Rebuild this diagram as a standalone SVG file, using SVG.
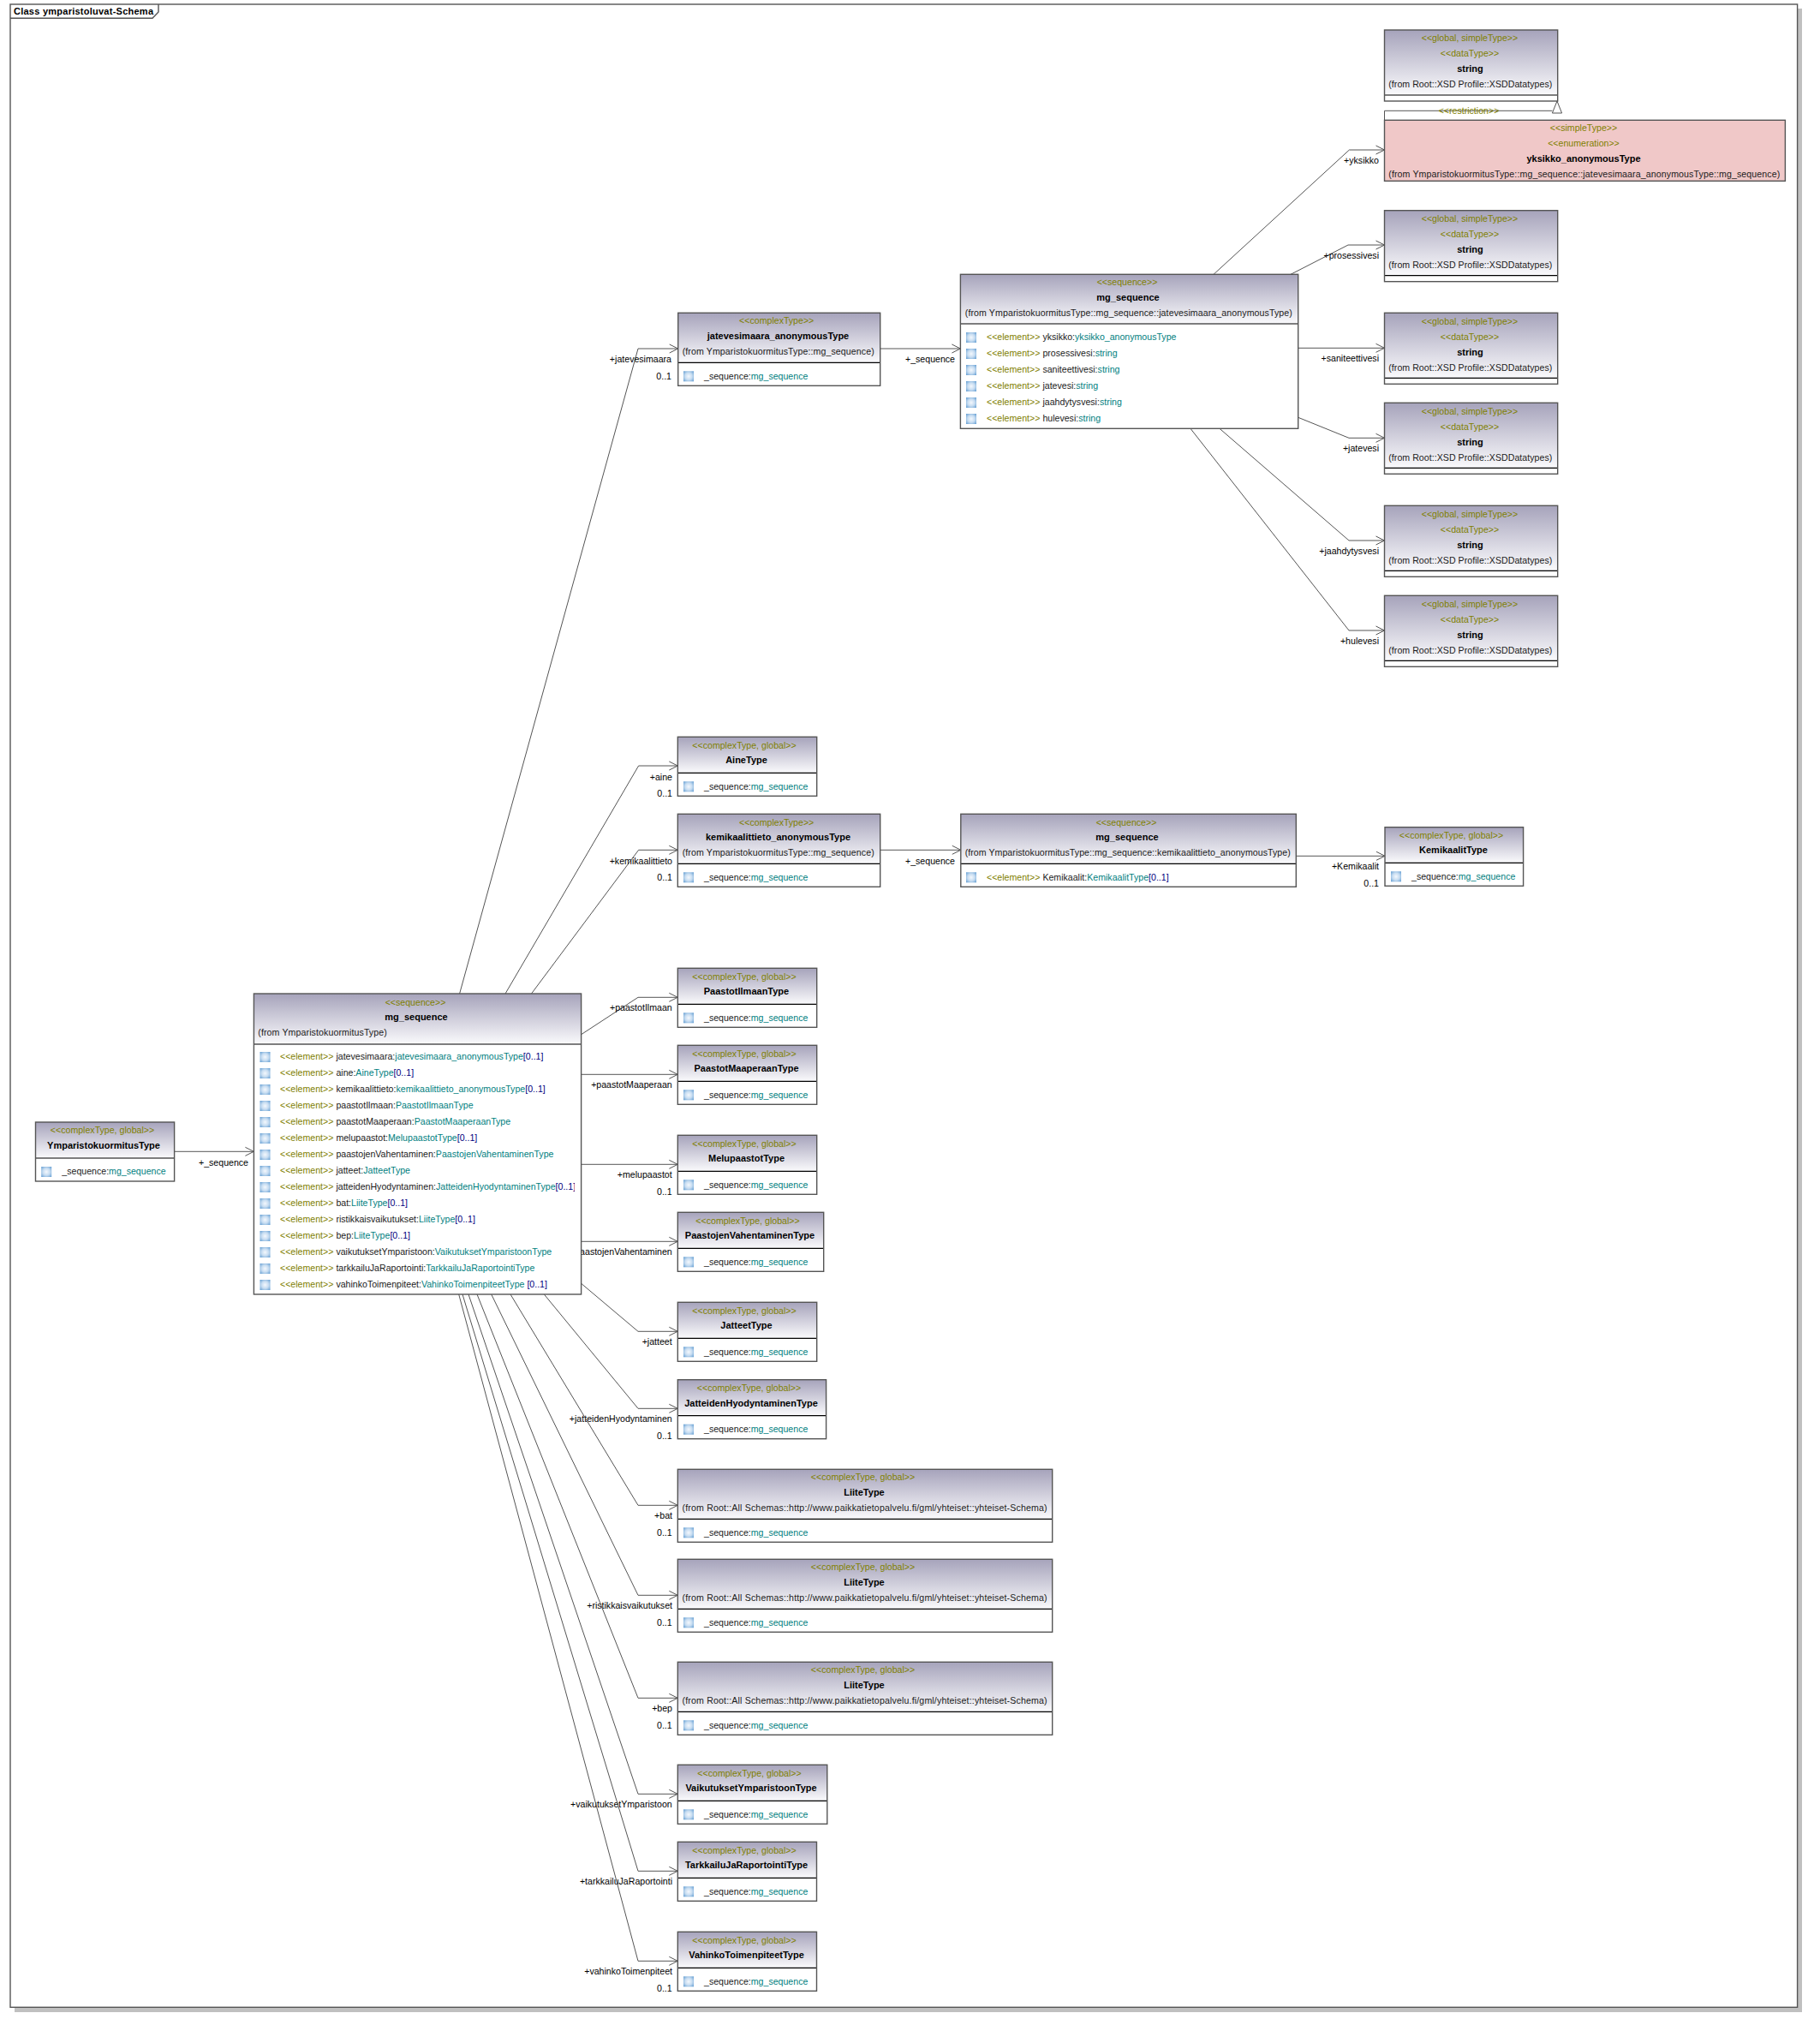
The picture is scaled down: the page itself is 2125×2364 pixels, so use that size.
<svg xmlns="http://www.w3.org/2000/svg" width="2125" height="2364" viewBox="0 0 2125 2364">
<style>
text{font-family:"Liberation Sans",Arial,sans-serif;font-size:10.6px;fill:#1a1a1a}
.st{fill:#808000;text-anchor:middle}
.el{fill:#808000}
.nm{font-weight:bold;font-size:11px;fill:#000;text-anchor:middle}
.ty{fill:#008080}
.mu{fill:#000080}
.lb{text-anchor:end;fill:#000}
.hd{fill:url(#hdr)}
.bx{fill:none;stroke:#555;stroke-width:1.4}
.sp{stroke:#000;stroke-width:1.2;fill:none}
.cn{fill:none;stroke:#555;stroke-width:1;marker-end:url(#arr)}
.ln{fill:none;stroke:#555;stroke-width:1}
</style>
<defs>
<linearGradient id="hdr" x1="0" y1="0" x2="0" y2="1"><stop offset="0" stop-color="#a6a3bb"/><stop offset="1" stop-color="#fafafc"/></linearGradient>
<radialGradient id="icg" cx="0.5" cy="0.5" r="0.7"><stop offset="0" stop-color="#f4f8fd"/><stop offset="0.5" stop-color="#c6dcf1"/><stop offset="1" stop-color="#5f9bd1"/></radialGradient>
<g id="ic"><rect width="12" height="12" fill="url(#icg)"/></g>
<marker id="arr" markerUnits="userSpaceOnUse" markerWidth="14" markerHeight="14" viewBox="-11 -7 13 14" refX="0" refY="0" orient="auto"><path d="M-10,-5L0,0L-10,5" fill="none" stroke="#555" stroke-width="1"/></marker>
<clipPath id="rowclip"><rect x="296" y="1160" width="375" height="351"/></clipPath>
</defs>

<g id="frame">
<rect x="17" y="10" width="2087" height="2339" fill="#c0c0c0"/>
<rect x="12" y="5" width="2086.6" height="2338.3" fill="#fff" stroke="#555" stroke-width="1.4"/>
<path d="M12,21.3H178L185,14V5" class="bx"/>
<text x="16" y="17" style="font-weight:bold;font-size:11px;fill:#000" textLength="163">Class ymparistoluvat-Schema</text>
</g>

<g id="connectors">
<path class="cn" d="M203.6,1344.3H296.4"/><text class="lb" x="290" y="1360.5">+_sequence</text>
<path class="cn" d="M536.6,1160L745,407H791.7"/><text class="lb" x="784" y="423">+jatevesimaara</text><text class="lb" x="784" y="443">0..1</text>
<path class="cn" d="M590,1160L745.6,894H791.3"/><text class="lb" x="785" y="910.5">+aine</text><text class="lb" x="785" y="930">0..1</text>
<path class="cn" d="M620.5,1160L745.6,992.3H791.3"/><text class="lb" x="785" y="1008.5">+kemikaalittieto</text><text class="lb" x="785" y="1028">0..1</text>
<path class="cn" d="M678.6,1207.7L745,1164.3H791.3"/><text class="lb" x="784.7" y="1180">+paastotIlmaan</text>
<path class="cn" d="M678.6,1254.3H791.3"/><text class="lb" x="784.7" y="1270">+paastotMaaperaan</text>
<path class="cn" d="M678.6,1359.3H791.3"/><text class="lb" x="784.7" y="1375">+melupaastot</text><text class="lb" x="784.7" y="1395">0..1</text>
<path class="cn" d="M678.6,1449.3H791.3"/><text class="lb" x="784.7" y="1465">+paastojenVahentaminen</text>
<path class="cn" d="M678.6,1498.3L745,1554.3H791.3"/><text class="lb" x="784.7" y="1570">+jatteet</text>
<path class="cn" d="M635.3,1511L745,1644.3H791.3"/><text class="lb" x="784.7" y="1660">+jatteidenHyodyntaminen</text><text class="lb" x="784.7" y="1680">0..1</text>
<path class="cn" d="M596,1511L745,1757.3H791.3"/><text class="lb" x="785" y="1773">+bat</text><text class="lb" x="784.7" y="1793">0..1</text>
<path class="cn" d="M573.7,1511L745,1862.3H791.3"/><text class="lb" x="785" y="1878">+ristikkaisvaikutukset</text><text class="lb" x="784.7" y="1898">0..1</text>
<path class="cn" d="M557,1511L745,1982.3H791.3"/><text class="lb" x="785" y="1998">+bep</text><text class="lb" x="784.7" y="2018">0..1</text>
<path class="cn" d="M547,1511L745,2094.3H791.3"/><text class="lb" x="784.7" y="2110">+vaikutuksetYmparistoon</text>
<path class="cn" d="M540,1511L745,2184.3H791.3"/><text class="lb" x="785" y="2200">+tarkkailuJaRaportointi</text>
<path class="cn" d="M535.7,1511L745,2289.3H791.3"/><text class="lb" x="785" y="2305">+vahinkoToimenpiteet</text><text class="lb" x="784.7" y="2325">0..1</text>
<path class="cn" d="M1027.7,407H1121.4"/><text class="lb" x="1115" y="423">+_sequence</text>
<path class="cn" d="M1027.7,992.3H1121.8"/><text class="lb" x="1115" y="1008.5">+_sequence</text>
<path class="cn" d="M1513.3,999.3H1617"/><text class="lb" x="1610" y="1015">+Kemikaalit</text><text class="lb" x="1610" y="1035">0..1</text>
<path class="cn" d="M1417,320.3L1575.4,175H1616.5"/><text class="lb" x="1610" y="191">+yksikko</text>
<path class="cn" d="M1507,320.3L1574,286H1616.5"/><text class="lb" x="1610" y="302">+prosessivesi</text>
<path class="cn" d="M1515.7,406.3H1616.5"/><text class="lb" x="1610" y="422">+saniteettivesi</text>
<path class="cn" d="M1515.7,487.3L1575,511.3H1616.5"/><text class="lb" x="1610" y="527">+jatevesi</text>
<path class="cn" d="M1424,500.3L1575,631H1616.5"/><text class="lb" x="1610" y="647">+jaahdytysvesi</text>
<path class="cn" d="M1390,500.3L1575,736H1616.5"/><text class="lb" x="1610" y="752">+hulevesi</text>
<path class="ln" d="M1616.5,140.3V129.3H1812.4"/>
<path class="ln" d="M1818,118L1823.6,132H1812.4Z" fill="#fff"/>
<text class="st" x="1715" y="133">&lt;&lt;restriction&gt;&gt;</text>
</g>

<g id="string1"><rect class="hd" x="1616.5" y="35" width="202.2" height="76"/><path class="sp" d="M1616.5,111H1818.7"/><rect class="bx" x="1616.5" y="35" width="202.2" height="83"/>
<text class="st" x="1716" y="48.3">&lt;&lt;global, simpleType&gt;&gt;</text><text class="st" x="1716" y="66.3">&lt;&lt;dataType&gt;&gt;</text><text class="nm" x="1716.5" y="84.3">string</text><text x="1621.3" y="102.3" textLength="191">(from Root::XSD Profile::XSDDatatypes)</text></g>

<g id="yksikko"><rect x="1616.5" y="140.3" width="467.9" height="71" fill="#f0c8c8" stroke="#555" stroke-width="1.4"/>
<text class="st" x="1849" y="153.3">&lt;&lt;simpleType&gt;&gt;</text><text class="st" x="1849" y="171.3">&lt;&lt;enumeration&gt;&gt;</text><text class="nm" x="1849" y="189.3">yksikko_anonymousType</text><text x="1621.3" y="207" textLength="457">(from YmparistokuormitusType::mg_sequence::jatevesimaara_anonymousType::mg_sequence)</text></g>

<g id="string2"><rect class="hd" x="1616.5" y="245.7" width="202.2" height="76"/><path class="sp" d="M1616.5,321.7H1818.7"/><rect class="bx" x="1616.5" y="245.7" width="202.2" height="83"/>
<text class="st" x="1716" y="259">&lt;&lt;global, simpleType&gt;&gt;</text><text class="st" x="1716" y="277">&lt;&lt;dataType&gt;&gt;</text><text class="nm" x="1716.5" y="295">string</text><text x="1621.3" y="313" textLength="191">(from Root::XSD Profile::XSDDatatypes)</text></g>

<g id="string3"><rect class="hd" x="1616.5" y="365.3" width="202.2" height="76"/><path class="sp" d="M1616.5,441.3H1818.7"/><rect class="bx" x="1616.5" y="365.3" width="202.2" height="83"/>
<text class="st" x="1716" y="378.6">&lt;&lt;global, simpleType&gt;&gt;</text><text class="st" x="1716" y="396.6">&lt;&lt;dataType&gt;&gt;</text><text class="nm" x="1716.5" y="414.6">string</text><text x="1621.3" y="432.6" textLength="191">(from Root::XSD Profile::XSDDatatypes)</text></g>

<g id="string4"><rect class="hd" x="1616.5" y="470.3" width="202.2" height="76"/><path class="sp" d="M1616.5,546.3H1818.7"/><rect class="bx" x="1616.5" y="470.3" width="202.2" height="83"/>
<text class="st" x="1716" y="483.6">&lt;&lt;global, simpleType&gt;&gt;</text><text class="st" x="1716" y="501.6">&lt;&lt;dataType&gt;&gt;</text><text class="nm" x="1716.5" y="519.6">string</text><text x="1621.3" y="537.6" textLength="191">(from Root::XSD Profile::XSDDatatypes)</text></g>

<g id="string5"><rect class="hd" x="1616.5" y="590.3" width="202.2" height="76"/><path class="sp" d="M1616.5,666.3H1818.7"/><rect class="bx" x="1616.5" y="590.3" width="202.2" height="83"/>
<text class="st" x="1716" y="603.6">&lt;&lt;global, simpleType&gt;&gt;</text><text class="st" x="1716" y="621.6">&lt;&lt;dataType&gt;&gt;</text><text class="nm" x="1716.5" y="639.6">string</text><text x="1621.3" y="657.6" textLength="191">(from Root::XSD Profile::XSDDatatypes)</text></g>

<g id="string6"><rect class="hd" x="1616.5" y="695.3" width="202.2" height="76"/><path class="sp" d="M1616.5,771.3H1818.7"/><rect class="bx" x="1616.5" y="695.3" width="202.2" height="83"/>
<text class="st" x="1716" y="708.6">&lt;&lt;global, simpleType&gt;&gt;</text><text class="st" x="1716" y="726.6">&lt;&lt;dataType&gt;&gt;</text><text class="nm" x="1716.5" y="744.6">string</text><text x="1621.3" y="762.6" textLength="191">(from Root::XSD Profile::XSDDatatypes)</text></g>

<g id="seq-jatevesimaara"><rect x="1121.4" y="320.3" width="394.3" height="180" fill="#fff"/><rect class="hd" x="1121.4" y="320.3" width="394.3" height="57.7"/><path class="sp" d="M1121.4,378H1515.7"/><rect class="bx" x="1121.4" y="320.3" width="394.3" height="180"/>
<text class="st" x="1316" y="333.3">&lt;&lt;sequence&gt;&gt;</text><text class="nm" x="1317" y="351.3">mg_sequence</text><text x="1126.8" y="369.3" textLength="382">(from YmparistokuormitusType::mg_sequence::jatevesimaara_anonymousType)</text>
<use href="#ic" x="1128" y="388"/><text x="1152" y="397"><tspan class="el">&lt;&lt;element&gt;&gt;</tspan> yksikko:<tspan class="ty">yksikko_anonymousType</tspan></text>
<use href="#ic" x="1128" y="407"/><text x="1152" y="416"><tspan class="el">&lt;&lt;element&gt;&gt;</tspan> prosessivesi:<tspan class="ty">string</tspan></text>
<use href="#ic" x="1128" y="426"/><text x="1152" y="435"><tspan class="el">&lt;&lt;element&gt;&gt;</tspan> saniteettivesi:<tspan class="ty">string</tspan></text>
<use href="#ic" x="1128" y="445"/><text x="1152" y="454"><tspan class="el">&lt;&lt;element&gt;&gt;</tspan> jatevesi:<tspan class="ty">string</tspan></text>
<use href="#ic" x="1128" y="464"/><text x="1152" y="473"><tspan class="el">&lt;&lt;element&gt;&gt;</tspan> jaahdytysvesi:<tspan class="ty">string</tspan></text>
<use href="#ic" x="1128" y="483"/><text x="1152" y="492"><tspan class="el">&lt;&lt;element&gt;&gt;</tspan> hulevesi:<tspan class="ty">string</tspan></text></g>

<g id="jatevesimaara"><rect x="791.7" y="365.3" width="236" height="85" fill="#fff"/><rect class="hd" x="791.7" y="365.3" width="236" height="58"/><path class="sp" d="M791.7,423.3H1027.7"/><rect class="bx" x="791.7" y="365.3" width="236" height="85"/>
<text class="st" x="906.7" y="378.3">&lt;&lt;complexType&gt;&gt;</text><text class="nm" x="908.5" y="396.3">jatevesimaara_anonymousType</text><text x="796.7" y="414.3" textLength="224">(from YmparistokuormitusType::mg_sequence)</text>
<use href="#ic" x="798" y="433.3"/><text x="822" y="442.7">_sequence:<tspan class="ty">mg_sequence</tspan></text></g>

<g id="AineType"><rect x="791.3" y="860.3" width="162.4" height="69" fill="#fff"/><rect class="hd" x="791.3" y="860.3" width="162.4" height="42"/><path class="sp" d="M791.3,902.3H953.7"/><rect class="bx" x="791.3" y="860.3" width="162.4" height="69"/>
<text class="st" x="869" y="873.8">&lt;&lt;complexType, global&gt;&gt;</text><text class="nm" x="871.5" y="891.3">AineType</text><use href="#ic" x="798" y="912.3"/><text x="822" y="921.8">_sequence:<tspan class="ty">mg_sequence</tspan></text></g>

<g id="kemikaalittieto"><rect x="791.3" y="950.3" width="236.4" height="85" fill="#fff"/><rect class="hd" x="791.3" y="950.3" width="236.4" height="58"/><path class="sp" d="M791.3,1008.3H1027.7"/><rect class="bx" x="791.3" y="950.3" width="236.4" height="85"/>
<text class="st" x="906.7" y="963.7">&lt;&lt;complexType&gt;&gt;</text><text class="nm" x="908.5" y="981.3">kemikaalittieto_anonymousType</text><text x="796.7" y="999.3" textLength="224">(from YmparistokuormitusType::mg_sequence)</text>
<use href="#ic" x="798" y="1018.3"/><text x="822" y="1027.7">_sequence:<tspan class="ty">mg_sequence</tspan></text></g>

<g id="seq-kemikaalittieto"><rect x="1121.8" y="950.3" width="391.5" height="85" fill="#fff"/><rect class="hd" x="1121.8" y="950.3" width="391.5" height="58"/><path class="sp" d="M1121.8,1008.3H1513.3"/><rect class="bx" x="1121.8" y="950.3" width="391.5" height="85"/>
<text class="st" x="1315" y="963.7">&lt;&lt;sequence&gt;&gt;</text><text class="nm" x="1316" y="981.3">mg_sequence</text><text x="1126.7" y="999.3" textLength="380">(from YmparistokuormitusType::mg_sequence::kemikaalittieto_anonymousType)</text>
<use href="#ic" x="1128" y="1018.3"/><text x="1152" y="1027.7"><tspan class="el">&lt;&lt;element&gt;&gt;</tspan> Kemikaalit:<tspan class="ty">KemikaalitType</tspan><tspan class="mu">[0..1]</tspan></text></g>

<g id="KemikaalitType"><rect x="1617" y="965.7" width="161.6" height="68.6" fill="#fff"/><rect class="hd" x="1617" y="965.7" width="161.6" height="41.6"/><path class="sp" d="M1617,1007.3H1778.6"/><rect class="bx" x="1617" y="965.7" width="161.6" height="68.6"/>
<text class="st" x="1694.5" y="978.7">&lt;&lt;complexType, global&gt;&gt;</text><text class="nm" x="1697" y="996.3">KemikaalitType</text><use href="#ic" x="1624" y="1017.3"/><text x="1648" y="1026.7">_sequence:<tspan class="ty">mg_sequence</tspan></text></g>

<g id="YmparistokuormitusType"><rect x="41.5" y="1310" width="162.1" height="69" fill="#fff"/><rect class="hd" x="41.5" y="1310" width="162.1" height="42"/><path class="sp" d="M41.5,1352H203.6"/><rect class="bx" x="41.5" y="1310" width="162.1" height="69"/>
<text class="st" x="119.5" y="1323.3">&lt;&lt;complexType, global&gt;&gt;</text><text class="nm" x="121" y="1341.3">YmparistokuormitusType</text><use href="#ic" x="48.2" y="1362"/><text x="72.3" y="1371.3">_sequence:<tspan class="ty">mg_sequence</tspan></text></g>

<g id="seq-main"><rect x="296.4" y="1160" width="382.2" height="351" fill="#fff"/><rect class="hd" x="296.4" y="1160" width="382.2" height="59"/><path class="sp" d="M296.4,1219H678.6"/><rect class="bx" x="296.4" y="1160" width="382.2" height="351"/>
<text class="st" x="485" y="1173.7">&lt;&lt;sequence&gt;&gt;</text><text class="nm" x="486" y="1191.3">mg_sequence</text><text x="301.3" y="1209.3" textLength="150.5">(from YmparistokuormitusType)</text>
<use href="#ic" x="303.5" y="1228"/><text x="327" y="1237"><tspan class="el">&lt;&lt;element&gt;&gt;</tspan> jatevesimaara:<tspan class="ty">jatevesimaara_anonymousType</tspan><tspan class="mu">[0..1]</tspan></text>
<use href="#ic" x="303.5" y="1247"/><text x="327" y="1256"><tspan class="el">&lt;&lt;element&gt;&gt;</tspan> aine:<tspan class="ty">AineType</tspan><tspan class="mu">[0..1]</tspan></text>
<use href="#ic" x="303.5" y="1266"/><text x="327" y="1275"><tspan class="el">&lt;&lt;element&gt;&gt;</tspan> kemikaalittieto:<tspan class="ty">kemikaalittieto_anonymousType</tspan><tspan class="mu">[0..1]</tspan></text>
<use href="#ic" x="303.5" y="1285"/><text x="327" y="1294"><tspan class="el">&lt;&lt;element&gt;&gt;</tspan> paastotIlmaan:<tspan class="ty">PaastotIlmaanType</tspan></text>
<use href="#ic" x="303.5" y="1304"/><text x="327" y="1313"><tspan class="el">&lt;&lt;element&gt;&gt;</tspan> paastotMaaperaan:<tspan class="ty">PaastotMaaperaanType</tspan></text>
<use href="#ic" x="303.5" y="1323"/><text x="327" y="1332"><tspan class="el">&lt;&lt;element&gt;&gt;</tspan> melupaastot:<tspan class="ty">MelupaastotType</tspan><tspan class="mu">[0..1]</tspan></text>
<use href="#ic" x="303.5" y="1342"/><text x="327" y="1351"><tspan class="el">&lt;&lt;element&gt;&gt;</tspan> paastojenVahentaminen:<tspan class="ty">PaastojenVahentaminenType</tspan></text>
<use href="#ic" x="303.5" y="1361"/><text x="327" y="1370"><tspan class="el">&lt;&lt;element&gt;&gt;</tspan> jatteet:<tspan class="ty">JatteetType</tspan></text>
<use href="#ic" x="303.5" y="1380"/><text x="327" y="1389" clip-path="url(#rowclip)"><tspan class="el">&lt;&lt;element&gt;&gt;</tspan> jatteidenHyodyntaminen:<tspan class="ty">JatteidenHyodyntaminenType</tspan><tspan class="mu">[0..1]</tspan></text>
<use href="#ic" x="303.5" y="1399"/><text x="327" y="1408"><tspan class="el">&lt;&lt;element&gt;&gt;</tspan> bat:<tspan class="ty">LiiteType</tspan><tspan class="mu">[0..1]</tspan></text>
<use href="#ic" x="303.5" y="1418"/><text x="327" y="1427"><tspan class="el">&lt;&lt;element&gt;&gt;</tspan> ristikkaisvaikutukset:<tspan class="ty">LiiteType</tspan><tspan class="mu">[0..1]</tspan></text>
<use href="#ic" x="303.5" y="1437"/><text x="327" y="1446"><tspan class="el">&lt;&lt;element&gt;&gt;</tspan> bep:<tspan class="ty">LiiteType</tspan><tspan class="mu">[0..1]</tspan></text>
<use href="#ic" x="303.5" y="1456"/><text x="327" y="1465"><tspan class="el">&lt;&lt;element&gt;&gt;</tspan> vaikutuksetYmparistoon:<tspan class="ty">VaikutuksetYmparistoonType</tspan></text>
<use href="#ic" x="303.5" y="1475"/><text x="327" y="1484"><tspan class="el">&lt;&lt;element&gt;&gt;</tspan> tarkkailuJaRaportointi:<tspan class="ty">TarkkailuJaRaportointiType</tspan></text>
<use href="#ic" x="303.5" y="1494"/><text x="327" y="1503"><tspan class="el">&lt;&lt;element&gt;&gt;</tspan> vahinkoToimenpiteet:<tspan class="ty">VahinkoToimenpiteetType</tspan><tspan class="mu"> [0..1]</tspan></text></g>

<g id="PaastotIlmaanType"><rect x="791.3" y="1130.3" width="162.4" height="69" fill="#fff"/><rect class="hd" x="791.3" y="1130.3" width="162.4" height="42"/><path class="sp" d="M791.3,1172.3H953.7"/><rect class="bx" x="791.3" y="1130.3" width="162.4" height="69"/>
<text class="st" x="869" y="1143.8">&lt;&lt;complexType, global&gt;&gt;</text><text class="nm" x="871.5" y="1161.3">PaastotIlmaanType</text><use href="#ic" x="798" y="1182.3"/><text x="822" y="1191.8">_sequence:<tspan class="ty">mg_sequence</tspan></text></g>

<g id="PaastotMaaperaanType"><rect x="791.3" y="1220.3" width="162.4" height="69" fill="#fff"/><rect class="hd" x="791.3" y="1220.3" width="162.4" height="42"/><path class="sp" d="M791.3,1262.3H953.7"/><rect class="bx" x="791.3" y="1220.3" width="162.4" height="69"/>
<text class="st" x="869" y="1233.8">&lt;&lt;complexType, global&gt;&gt;</text><text class="nm" x="871.5" y="1251.3">PaastotMaaperaanType</text><use href="#ic" x="798" y="1272.3"/><text x="822" y="1281.8">_sequence:<tspan class="ty">mg_sequence</tspan></text></g>

<g id="MelupaastotType"><rect x="791.3" y="1325.3" width="162.4" height="69" fill="#fff"/><rect class="hd" x="791.3" y="1325.3" width="162.4" height="42"/><path class="sp" d="M791.3,1367.3H953.7"/><rect class="bx" x="791.3" y="1325.3" width="162.4" height="69"/>
<text class="st" x="869" y="1338.8">&lt;&lt;complexType, global&gt;&gt;</text><text class="nm" x="871.5" y="1356.3">MelupaastotType</text><use href="#ic" x="798" y="1377.3"/><text x="822" y="1386.8">_sequence:<tspan class="ty">mg_sequence</tspan></text></g>

<g id="PaastojenVahentaminenType"><rect x="791.3" y="1415.3" width="170.4" height="69" fill="#fff"/><rect class="hd" x="791.3" y="1415.3" width="170.4" height="42"/><path class="sp" d="M791.3,1457.3H961.7"/><rect class="bx" x="791.3" y="1415.3" width="170.4" height="69"/>
<text class="st" x="873" y="1428.8">&lt;&lt;complexType, global&gt;&gt;</text><text class="nm" x="875.5" y="1446.3">PaastojenVahentaminenType</text><use href="#ic" x="798" y="1467.3"/><text x="822" y="1476.8">_sequence:<tspan class="ty">mg_sequence</tspan></text></g>

<g id="JatteetType"><rect x="791.3" y="1520.3" width="162.4" height="69" fill="#fff"/><rect class="hd" x="791.3" y="1520.3" width="162.4" height="42"/><path class="sp" d="M791.3,1562.3H953.7"/><rect class="bx" x="791.3" y="1520.3" width="162.4" height="69"/>
<text class="st" x="869" y="1533.8">&lt;&lt;complexType, global&gt;&gt;</text><text class="nm" x="871.5" y="1551.3">JatteetType</text><use href="#ic" x="798" y="1572.3"/><text x="822" y="1581.8">_sequence:<tspan class="ty">mg_sequence</tspan></text></g>

<g id="JatteidenHyodyntaminenType"><rect x="791.3" y="1610.7" width="173.3" height="69" fill="#fff"/><rect class="hd" x="791.3" y="1610.7" width="173.3" height="42"/><path class="sp" d="M791.3,1652.7H964.6"/><rect class="bx" x="791.3" y="1610.7" width="173.3" height="69"/>
<text class="st" x="874.5" y="1624.2">&lt;&lt;complexType, global&gt;&gt;</text><text class="nm" x="877" y="1641.5">JatteidenHyodyntaminenType</text><use href="#ic" x="798" y="1662.7"/><text x="822" y="1671.8">_sequence:<tspan class="ty">mg_sequence</tspan></text></g>

<g id="LiiteType1"><rect x="791.3" y="1715.3" width="437.4" height="85" fill="#fff"/><rect class="hd" x="791.3" y="1715.3" width="437.4" height="58"/><path class="sp" d="M791.3,1773.3H1228.7"/><rect class="bx" x="791.3" y="1715.3" width="437.4" height="85"/>
<text class="st" x="1007.5" y="1728.3">&lt;&lt;complexType, global&gt;&gt;</text><text class="nm" x="1009" y="1746.3">LiiteType</text><text x="796.6" y="1764.3" textLength="426">(from Root::All Schemas::http://www.paikkatietopalvelu.fi/gml/yhteiset::yhteiset-Schema)</text>
<use href="#ic" x="798" y="1783.3"/><text x="822" y="1792.7">_sequence:<tspan class="ty">mg_sequence</tspan></text></g>

<g id="LiiteType2"><rect x="791.3" y="1820.3" width="437.4" height="85" fill="#fff"/><rect class="hd" x="791.3" y="1820.3" width="437.4" height="58"/><path class="sp" d="M791.3,1878.3H1228.7"/><rect class="bx" x="791.3" y="1820.3" width="437.4" height="85"/>
<text class="st" x="1007.5" y="1833.3">&lt;&lt;complexType, global&gt;&gt;</text><text class="nm" x="1009" y="1851.3">LiiteType</text><text x="796.6" y="1869.3" textLength="426">(from Root::All Schemas::http://www.paikkatietopalvelu.fi/gml/yhteiset::yhteiset-Schema)</text>
<use href="#ic" x="798" y="1888.3"/><text x="822" y="1897.7">_sequence:<tspan class="ty">mg_sequence</tspan></text></g>

<g id="LiiteType3"><rect x="791.3" y="1940.3" width="437.4" height="85" fill="#fff"/><rect class="hd" x="791.3" y="1940.3" width="437.4" height="58"/><path class="sp" d="M791.3,1998.3H1228.7"/><rect class="bx" x="791.3" y="1940.3" width="437.4" height="85"/>
<text class="st" x="1007.5" y="1953.3">&lt;&lt;complexType, global&gt;&gt;</text><text class="nm" x="1009" y="1971.3">LiiteType</text><text x="796.6" y="1989.3" textLength="426">(from Root::All Schemas::http://www.paikkatietopalvelu.fi/gml/yhteiset::yhteiset-Schema)</text>
<use href="#ic" x="798" y="2008.3"/><text x="822" y="2017.7">_sequence:<tspan class="ty">mg_sequence</tspan></text></g>

<g id="VaikutuksetYmparistoonType"><rect x="791.3" y="2060.3" width="174.5" height="69" fill="#fff"/><rect class="hd" x="791.3" y="2060.3" width="174.5" height="42"/><path class="sp" d="M791.3,2102.3H965.8"/><rect class="bx" x="791.3" y="2060.3" width="174.5" height="69"/>
<text class="st" x="875" y="2073.8">&lt;&lt;complexType, global&gt;&gt;</text><text class="nm" x="877" y="2091.3">VaikutuksetYmparistoonType</text><use href="#ic" x="798" y="2112.3"/><text x="822" y="2121.8">_sequence:<tspan class="ty">mg_sequence</tspan></text></g>

<g id="TarkkailuJaRaportointiType"><rect x="791.3" y="2150.3" width="162.2" height="69" fill="#fff"/><rect class="hd" x="791.3" y="2150.3" width="162.2" height="42"/><path class="sp" d="M791.3,2192.3H953.5"/><rect class="bx" x="791.3" y="2150.3" width="162.2" height="69"/>
<text class="st" x="869" y="2163.8">&lt;&lt;complexType, global&gt;&gt;</text><text class="nm" x="871.5" y="2181.3">TarkkailuJaRaportointiType</text><use href="#ic" x="798" y="2202.3"/><text x="822" y="2211.8">_sequence:<tspan class="ty">mg_sequence</tspan></text></g>

<g id="VahinkoToimenpiteetType"><rect x="791.3" y="2255.3" width="162.2" height="69" fill="#fff"/><rect class="hd" x="791.3" y="2255.3" width="162.2" height="42"/><path class="sp" d="M791.3,2297.3H953.5"/><rect class="bx" x="791.3" y="2255.3" width="162.2" height="69"/>
<text class="st" x="869" y="2268.8">&lt;&lt;complexType, global&gt;&gt;</text><text class="nm" x="871.5" y="2286.3">VahinkoToimenpiteetType</text><use href="#ic" x="798" y="2307.3"/><text x="822" y="2316.8">_sequence:<tspan class="ty">mg_sequence</tspan></text></g>
</svg>
